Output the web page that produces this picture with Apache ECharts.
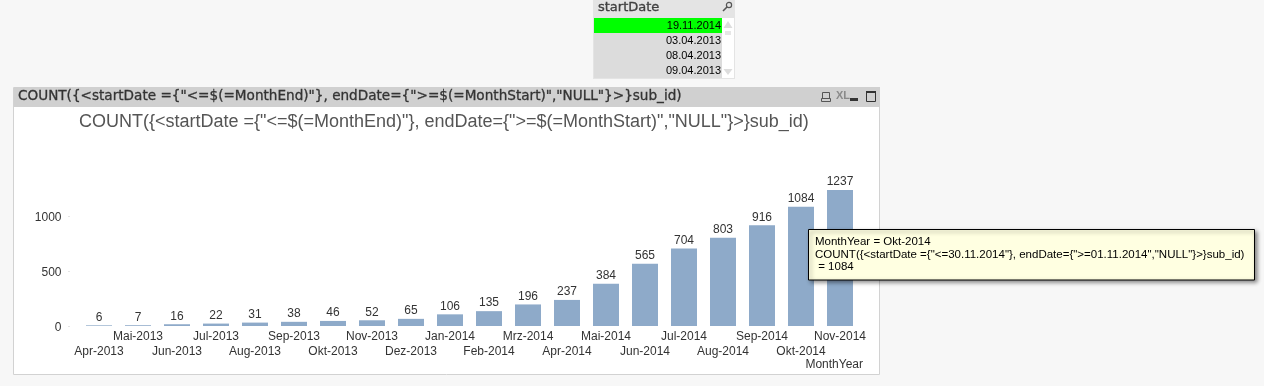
<!DOCTYPE html>
<html><head><meta charset="utf-8">
<style>html,body{margin:0;padding:0;background:#f7f7f7}#c{width:1264px;height:386px}</style>
<script src="https://cdn.jsdelivr.net/npm/echarts@6/dist/echarts.min.js"></script>
</head><body><div id="c"></div>
<script>
const months = ['Apr-2013','Mai-2013','Jun-2013','Jul-2013','Aug-2013','Sep-2013','Okt-2013','Nov-2013','Dez-2013','Jan-2014','Feb-2014','Mrz-2014','Apr-2014','Mai-2014','Jun-2014','Jul-2014','Aug-2014','Sep-2014','Okt-2014','Nov-2014'];
const counts = [6,7,16,22,31,38,46,52,65,106,135,196,237,384,565,704,803,916,1084,1237];
const yTicks = [0,500,1000];
const slicerTitle = 'startDate';
const slicerDates = ['19.11.2014','03.04.2013','08.04.2013','09.04.2013'];
const captionText = 'COUNT({<startDate ={"<=$(=MonthEnd)"}, endDate={">=$(=MonthStart)","NULL"}>}sub_id)';
const tooltipLines = ['MonthYear = Okt-2014','COUNT({<startDate ={"<=30.11.2014"}, endDate={">=01.11.2014","NULL"}>}sub_id)',' = 1084'];

const rect=(x,y,w,h,fill,extra={})=>({type:'rect',silent:true,z:extra.z||1,shape:{x,y,width:w,height:h},style:Object.assign({fill},extra.style||{})});
const txt=(x,y,text,font,fill,align='left',z=3,extra={})=>({type:'text',silent:true,z,x,y,style:Object.assign({text,font,fill,align,verticalAlign:'middle'},extra)});
const poly=(pts,fill,z=3)=>({type:'polygon',silent:true,z,shape:{points:pts},style:{fill}});

const g=[];
// slicer
g.push(rect(593,0,142,79,'#e4e4e4'));
g.push(rect(594,18,128,60,'#dcdcdc',{z:2}));
g.push(rect(594,18,128,15,'#00ff00',{z:2}));
g.push(rect(722,18,12,60,'#ffffff',{z:2}));
g.push(txt(598,7.5,slicerTitle,'13px "DejaVu Sans"','#404040','left',3,{stroke:'#404040',lineWidth:0.35}));
slicerDates.forEach((d,i)=>g.push(txt(721,25.5+i*15,d,'11px "Liberation Sans"','#000000','right')));
g.push(poly([[728,21],[723.5,28],[732.5,28]],'#dddddd'));
g.push(poly([[728,75],[723.5,69],[732.5,69]],'#dddddd'));
g.push(rect(725,31,6,4,'#e6e6e6',{z:3}));
g.push({type:'circle',silent:true,z:3,shape:{cx:729,cy:5,r:2.6},style:{fill:'none',stroke:'#555',lineWidth:1.2}});
g.push({type:'line',silent:true,z:3,shape:{x1:727,y1:7,x2:723,y2:11},style:{stroke:'#555',lineWidth:1.6}});
// chart panel
g.push(rect(13.5,87.5,866,287,'#ffffff',{style:{stroke:'#d2d2d2',lineWidth:1}}));
g.push(rect(14,87,866,20,'#d0d0d0',{z:2}));
g.push(txt(18,96.5,captionText,'13.6px "DejaVu Sans"','#333333','left',3,{stroke:'#333333',lineWidth:0.3}));
// caption icons
g.push({type:'rect',silent:true,z:3,shape:{x:822.5,y:92.5,width:7,height:6},style:{fill:'none',stroke:'#555'}});
g.push({type:'rect',silent:true,z:3,shape:{x:821.5,y:98.5,width:9,height:3},style:{fill:'none',stroke:'#555'}});
g.push(txt(836,95.5,'XL','bold 11px "Liberation Sans Narrow","Liberation Sans"','#8a8a8a'));
g.push(rect(850,98,8,3,'#333333',{z:3}));
g.push({type:'rect',silent:true,z:3,shape:{x:866.5,y:91.5,width:9,height:10},style:{fill:'none',stroke:'#333'}});
g.push(rect(866,91,10,2,'#333333',{z:3}));
// hover tooltip
g.push({type:'rect',silent:true,z:20,shape:{x:808.5,y:229.5,width:446,height:50.5},style:{fill:'#ffffe1',stroke:'#000000',lineWidth:1,shadowBlur:4,shadowOffsetX:2,shadowOffsetY:2,shadowColor:'rgba(0,0,0,0.45)'}});
tooltipLines.forEach((t,i)=>g.push(txt(815,242+i*12.5,t,'11.5px "Liberation Sans"','#000000','left',21)));

const chart=echarts.init(document.getElementById('c'),null,{renderer:'canvas'});
chart.setOption({
  animation:false,
  backgroundColor:'#f7f7f7',
  title:{text:captionText,left:74,top:108,textStyle:{fontFamily:'Liberation Sans',fontSize:18,fontWeight:'normal',color:'#555555'},z:5},
  grid:{left:79.5,right:404.5,top:188.5,bottom:60,containLabel:false,z:5},
  xAxis:{type:'category',data:months,z:5,
    axisLine:{show:false},axisTick:{show:false},
    name:'MonthYear',nameLocation:'end',nameGap:3.5,
    nameTextStyle:{fontFamily:'Liberation Sans',fontSize:12,color:'#333333',align:'right',verticalAlign:'top',padding:[33,0,0,0]},
    axisLabel:{interval:0,hideOverlap:false,margin:3,lineHeight:15,fontFamily:'Liberation Sans',fontSize:12,color:'#333333',
      formatter:(v,i)=>i%2?v:'\n'+v}},
  yAxis:{type:'value',min:0,max:1250,offset:10,z:5,
    splitLine:{show:false},axisLine:{show:false},
    axisTick:{show:true,length:1,customValues:yTicks,lineStyle:{color:'#c8c8c8'}},
    axisLabel:{margin:8,verticalAlign:'top',lineHeight:4,customValues:yTicks,formatter:v=>String(v),fontFamily:'Liberation Sans',fontSize:12,color:'#333333'}},
  series:[{type:'bar',data:counts,barWidth:26,z:5,
    itemStyle:{color:'#8eaac9'},
    label:{show:true,position:'top',distance:2,fontFamily:'Liberation Sans',fontSize:12,color:'#333333'}}],
  graphic:{elements:g}
});
</script></body></html>
